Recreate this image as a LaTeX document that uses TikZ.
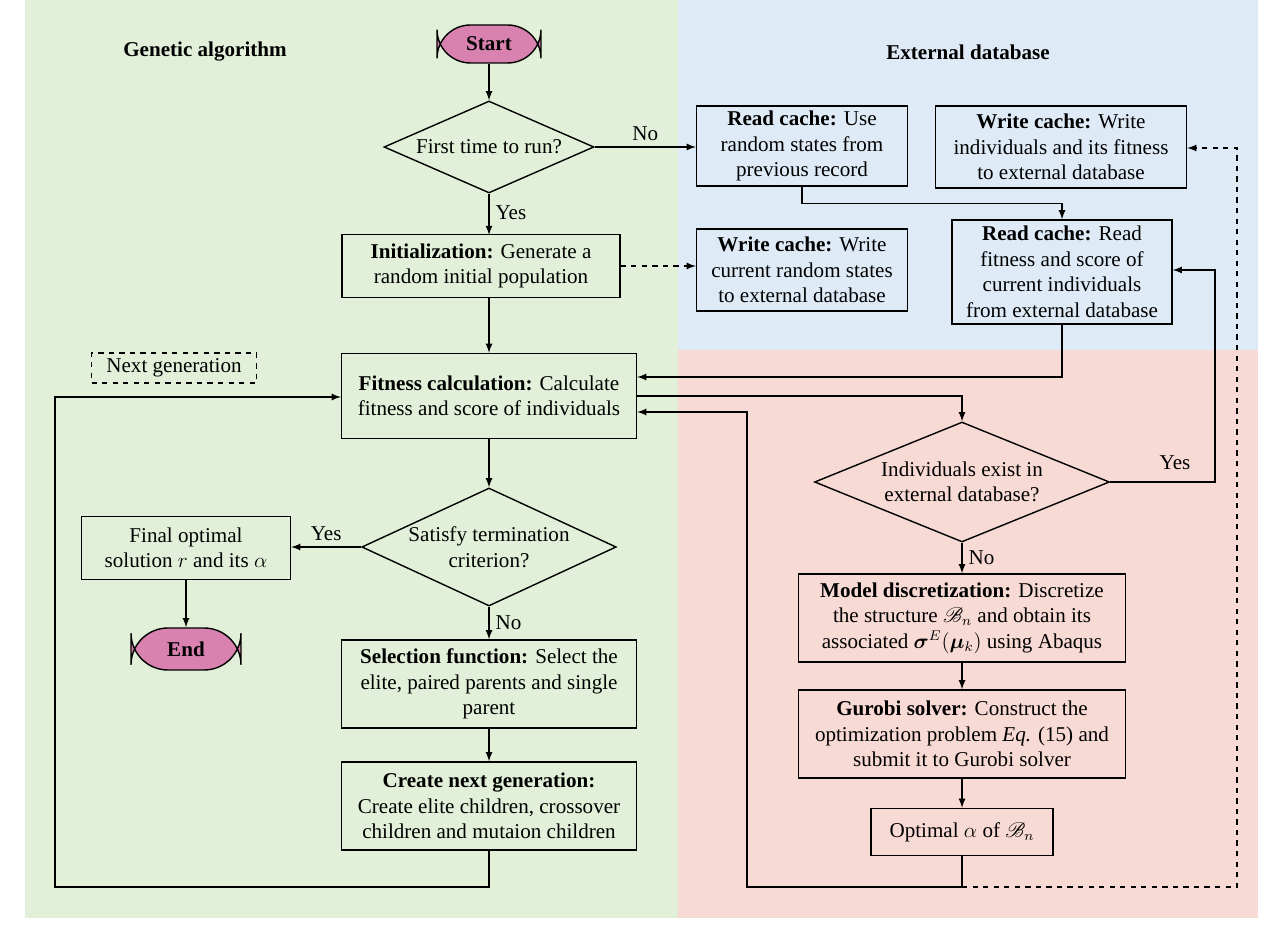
\documentclass[tikz,border=0pt]{standalone}
\usepackage{amsmath, amssymb}
\usepackage{bm}
\usepackage{mathrsfs}
\usepackage{fontspec}
\setmainfont{Liberation Serif}
\usetikzlibrary{arrows,shapes,backgrounds}
\definecolor{gagreen}{RGB}{226,240,217}
\definecolor{dbblue}{RGB}{222,235,247}
\definecolor{dbpink}{RGB}{248,218,212}
\definecolor{termpink}{RGB}{217,130,176}
\tikzset{
 box/.style={draw, thick, align=center, inner sep=2pt, font=\fontsize{12}{14.5}\selectfont},
 decision/.style={draw, thick, diamond, aspect=2.3, align=center, inner sep=0pt, font=\fontsize{12}{14.5}\selectfont},
 terminal/.style={draw, thick, rounded corners=19pt, fill=termpink, font=\bfseries\fontsize{12}{14.5}\selectfont},
 flow/.style={thick, -latex}
}
\begin{document}
\begin{tikzpicture}[x=0.02cm, y=-0.02cm]
 \useasboundingbox (0,0) rectangle (1280,928);
 \fill[gagreen] (25,0) rectangle (678,918);
 \fill[dbblue] (678,0) rectangle (1258,350);
 \fill[dbpink] (678,350) rectangle (1258,918);
%
 \node[font=\bfseries\fontsize{12}{14.5}\selectfont] (tga) at (205,52) {Genetic algorithm};
 \node[font=\bfseries\fontsize{12}{14.5}\selectfont] (tdb) at (968,52) {External database};
%
 \node[terminal, minimum width=104\pgflinewidth, minimum width=2.08cm, minimum height=0.76cm] (start) at (489,44) {Start};
 \node[decision, minimum width=4.2cm, minimum height=1.84cm] (first) at (489,147) {First time to run?};
 \node[box, minimum width=5.56cm, minimum height=1.26cm] (init) at (481,266) {\textbf{Initialization:} Generate a\\random initial population};
 \node[box, minimum width=4.22cm, minimum height=1.64cm] (wc1) at (802,270) {\textbf{Write cache:} Write\\current random states\\to external database};
 \node[box, minimum width=4.22cm, minimum height=1.6cm] (rc1) at (802,146) {\textbf{Read cache:} Use\\random states from\\previous record};
 \node[box, minimum width=5.02cm, minimum height=1.64cm] (wc2) at (1061,147) {\textbf{Write cache:} Write\\individuals and its fitness\\to external database};
 \node[box, minimum width=4.4cm, minimum height=2.08cm] (rc2) at (1062,272) {\textbf{Read cache:} Read\\fitness and score of\\current individuals\\from external database};
 \node[box, minimum width=5.9cm, minimum height=1.7cm] (fit) at (489,396) {\textbf{Fitness calculation:} Calculate\\fitness and score of individuals};
 \node[box, dashed, minimum width=3.3cm, minimum height=0.6cm] (next) at (174,368) {Next generation};
 \node[decision, minimum width=5.9cm, minimum height=2.4cm] (exist) at (962,482) {Individuals exist in\\external database?};
 \node[box, minimum width=6.54cm, minimum height=1.76cm] (model) at (962,618) {\textbf{Model discretization:} Discretize\\the structure $\mathscr{B}_n$ and obtain its\\associated $\bm{\sigma}^E(\bm{\mu}_k)$ using Abaqus};
 \node[box, minimum width=6.54cm, minimum height=1.76cm] (gurobi) at (962,734) {\textbf{Gurobi solver:} Construct the\\optimization problem \textit{Eq.} (15) and\\submit it to Gurobi solver};
 \node[box, minimum width=3.64cm, minimum height=0.94cm] (opt) at (962,832) {Optimal $\alpha$ of $\mathscr{B}_n$};
 \node[decision, minimum width=5cm, minimum height=2.36cm] (term) at (489,547) {Satisfy termination\\criterion?};
 \node[box, minimum width=4.18cm, minimum height=1.26cm] (final) at (186,548) {Final optimal\\solution $r$ and its $\alpha$};
 \node[terminal, minimum width=2.2cm, minimum height=0.84cm, rounded corners=21pt] (end) at (186,649) {End};
 \node[box, minimum width=5.9cm, minimum height=1.76cm] (sel) at (489,684) {\textbf{Selection function:} Select the\\elite, paired parents and single\\parent};
 \node[box, minimum width=5.9cm, minimum height=1.76cm] (create) at (489,806) {\textbf{Create next generation:}\\Create elite children, crossover\\children and mutaion children};
%
 \draw[flow] (start) -- (first);
 \draw[flow] (first) -- node[right, pos=0.45, font=\fontsize{12}{14.5}\selectfont] {Yes} (489,235);
 \draw[flow] (first.east) -- node[above, font=\fontsize{12}{14.5}\selectfont] {No} (rc1.west |- first.east);
 \draw[flow] (489,298) -- (fit);
 \draw[flow, dashed] (init.east) -- (wc1.west |- init.east);
 \draw[flow] (rc1.south) -- ++(0,17) -| (rc2.north);
 \draw[flow] (rc2.south) |- (fit.east |- 0,377);
 \draw[flow] (fit.east) -| (exist.north);
 \draw[flow] (exist.east) -- (1215,482) |- (rc2.east |- 0,270);
 \node[font=\fontsize{12}{14.5}\selectfont] (yes2) at (1175,463) {Yes};
 \draw[flow] (exist) -- node[right, font=\fontsize{12}{14.5}\selectfont] {No} (model);
 \draw[flow] (model) -- (gurobi);
 \draw[flow] (gurobi) -- (opt);
 \draw[flow] (opt.south) -- (962,887) -| (747,412) -- (fit.east |- 0,412);
 \draw[flow, dashed] (962,887) -- (1237,887) |- (wc2.east |- 0,148);
 \draw[flow] (fit) -- (term);
 \draw[flow] (term.west) -- node[above, font=\fontsize{12}{14.5}\selectfont] {Yes} (final.east |- term.west);
 \draw[flow] (term) -- node[right, font=\fontsize{12}{14.5}\selectfont] {No} (sel);
 \draw[flow] (final) -- (end);
 \draw[flow] (sel) -- (create);
 \draw[flow] (create.south) -- (489,887) -| (55,397) -- (fit.west |- 0,397);
\end{tikzpicture}
\end{document}
